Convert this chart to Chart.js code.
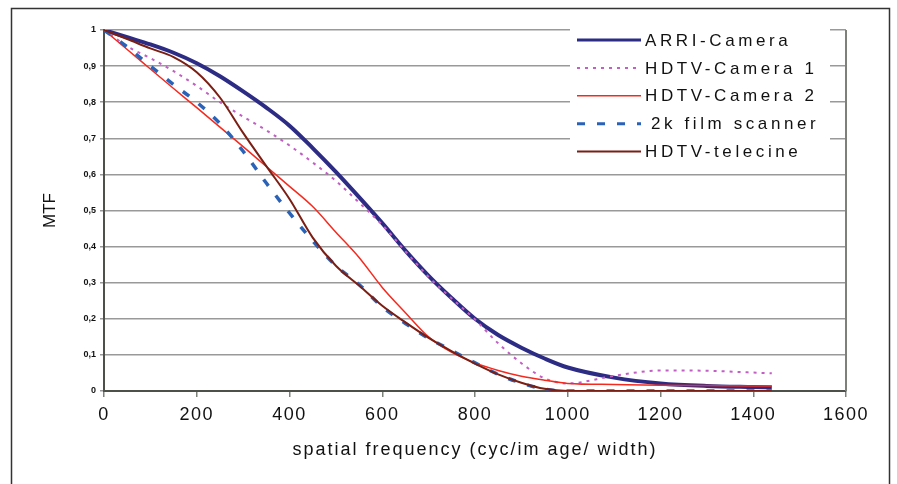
<!DOCTYPE html>
<html>
<head>
<meta charset="utf-8">
<script src="https://cdn.jsdelivr.net/npm/chart.js@4.4.1/dist/chart.umd.min.js"></script>
<style>
  html, body { margin: 0; padding: 0; background: #fff; }
  #wrap { width: 897px; height: 484px; position: relative; }
</style>
</head>
<body>
<div id="wrap"><canvas id="mtfChart"></canvas></div>
<script>
// spatial frequency (cyc/image width) sample points
const freq = [0, 50, 100, 150, 200, 250, 300, 350, 400, 450, 500, 550, 600, 650, 700,
  750, 800, 850, 900, 950, 1000, 1100, 1200, 1300, 1400, 1440];

const arriCamera = [1, 0.98, 0.96, 0.937, 0.908, 0.872, 0.83, 0.785, 0.735, 0.673, 0.607, 0.537,
  0.465, 0.389, 0.319, 0.257, 0.2, 0.155, 0.12, 0.09, 0.065, 0.037, 0.021, 0.014, 0.011, 0.01];
const hdtvCamera1 = [1, 0.955, 0.922, 0.886, 0.845, 0.8, 0.76, 0.722, 0.68, 0.633, 0.582, 0.522,
  0.46, 0.387, 0.316, 0.256, 0.198, 0.132, 0.077, 0.035, 0.021, 0.042, 0.057, 0.056, 0.051, 0.049];
const hdtvCamera2 = [1, 0.946, 0.892, 0.838, 0.785, 0.731, 0.677, 0.622, 0.567, 0.511, 0.44, 0.37,
  0.287, 0.217, 0.15, 0.107, 0.078, 0.057, 0.041, 0.03, 0.021, 0.018, 0.016, 0.015, 0.014, 0.014];
const filmScanner2k = [1, 0.953, 0.9, 0.849, 0.8, 0.741, 0.664, 0.576, 0.493, 0.416, 0.347, 0.295,
  0.233, 0.187, 0.146, 0.112, 0.078, 0.046, 0.022, 0.005, 0, 0, 0, 0, 0, 0];
const hdtvTelecine = [1, 0.975, 0.949, 0.925, 0.883, 0.813, 0.715, 0.623, 0.532, 0.425, 0.347, 0.292,
  0.236, 0.19, 0.147, 0.11, 0.076, 0.046, 0.023, 0.006, 0, 0, 0, 0, 0, 0];

const seriesNames = ['ARRI-Camera', 'HDTV-Camera 1', 'HDTV-Camera 2', '2k film scanner', 'HDTV-telecine'];
const seriesValues = [arriCamera, hdtvCamera1, hdtvCamera2, filmScanner2k, hdtvTelecine];

const styles = [
  { color: '#2d2c85', width: 4, dash: [], order: 5 },
  { color: '#c25ec4', width: 2, dash: [3, 5], order: 4 },
  { color: '#f52a1e', width: 1.5, dash: [], order: 3 },
  { color: '#2a62b8', width: 3.5, dash: [8, 12], order: 2 },
  { color: '#7b1e14', width: 2, dash: [], order: 1 }
];

const datasets = seriesNames.map((name, i) => ({
  label: name,
  data: freq.map((f, j) => ({ x: f, y: seriesValues[i][j] })),
  borderColor: styles[i].color,
  backgroundColor: styles[i].color,
  borderWidth: styles[i].width,
  borderDash: styles[i].dash,
  order: styles[i].order,
  pointRadius: 0,
  fill: false,
  cubicInterpolationMode: 'monotone'
}));

const fontFamily = '"Liberation Sans", Arial, Helvetica, sans-serif';

// letter-spaced x axis text (the original uses a spaced-out Arial)
function spaceOut(chart, scale, fn, spacing) {
  const orig = scale[fn].bind(scale);
  scale[fn] = function (...args) {
    chart.ctx.save();
    chart.ctx.letterSpacing = spacing;
    orig(...args);
    chart.ctx.restore();
  };
}

// frame, right edge of the plot and the boxed legend
const decorPlugin = {
  id: 'decor',
  beforeDraw(chart) {
    const sx = chart.scales.x;
    if (!sx._spaced) {
      spaceOut(chart, sx, 'drawLabels', '1.5px');
      spaceOut(chart, sx, 'drawTitle', '2px');
      sx._spaced = true;
    }
    const ctx = chart.ctx;
    ctx.save();
    ctx.fillStyle = '#fff';
    ctx.fillRect(0, 0, chart.width, chart.height);
    ctx.strokeStyle = '#333';
    ctx.lineWidth = 1.5;
    ctx.strokeRect(11.5, 8.5, 878, 500);
    ctx.restore();
  },
  beforeDatasetsDraw(chart) {
    const { ctx, chartArea } = chart;
    ctx.save();
    ctx.strokeStyle = '#7c827a';
    ctx.lineWidth = 2;
    ctx.beginPath();
    ctx.moveTo(chartArea.right, chartArea.top);
    ctx.lineTo(chartArea.right, chartArea.bottom);
    ctx.stroke();
    ctx.restore();
  },
  afterDraw(chart) {
    const ctx = chart.ctx;
    ctx.save();
    ctx.fillStyle = '#fff';
    ctx.fillRect(570, 24, 260, 142);
    chart.data.datasets.forEach((ds, i) => {
      const y = 40 + i * 27.9;
      ctx.strokeStyle = ds.borderColor;
      ctx.lineWidth = Math.min(ds.borderWidth, 3);
      ctx.setLineDash(ds.borderDash);
      ctx.beginPath();
      ctx.moveTo(577, y);
      ctx.lineTo(641, y);
      ctx.stroke();
      ctx.setLineDash([]);
      ctx.fillStyle = '#111';
      ctx.font = '17px ' + fontFamily;
      ctx.letterSpacing = '3.6px';
      ctx.textBaseline = 'middle';
      ctx.fillText(ds.label, i === 3 ? 651 : 645, y + 1);
    });
    ctx.restore();
  }
};

new Chart(document.getElementById('mtfChart'), {
  type: 'line',
  data: { datasets },
  plugins: [decorPlugin],
  options: {
    responsive: true,
    maintainAspectRatio: false,
    animation: false,
    layout: { padding: { top: 30, right: 51, left: 0, bottom: 0 } },
    plugins: { legend: { display: false }, tooltip: { enabled: false } },
    scales: {
      x: {
        type: 'linear',
        min: 0,
        max: 1600,
        ticks: { stepSize: 200, color: '#111', padding: 7, maxRotation: 0,
          font: { family: fontFamily, size: 18 }, callback: v => String(v) },
        grid: { drawOnChartArea: false, drawTicks: true, tickLength: 6, color: '#7c827a', lineWidth: 1.5 },
        border: { display: true, color: '#4c524a', width: 2 },
        title: { display: true, text: 'spatial frequency (cyc/im age/ width)', color: '#111',
          font: { family: fontFamily, size: 18 }, padding: { top: 0, bottom: 23 } },
        afterFit(scale) { scale.height = 93; }
      },
      y: {
        min: 0,
        max: 1,
        ticks: {
          stepSize: 0.1,
          color: '#111',
          padding: 4,
          font: { family: fontFamily, size: 9, weight: 'bold' },
          callback: v => (v === 0 || v === 1) ? String(v) : v.toFixed(1).replace('.', ',')
        },
        grid: { color: '#999', lineWidth: 1.5, tickLength: 4 },
        border: { display: true, color: '#4c524a', width: 2 },
        title: { display: true, text: 'MTF', color: '#111',
          font: { family: fontFamily, size: 17 }, padding: { top: 40, bottom: 0 } },
        afterFit(scale) { scale.width = 104; }
      }
    }
  }
});
</script>
</body>
</html>
